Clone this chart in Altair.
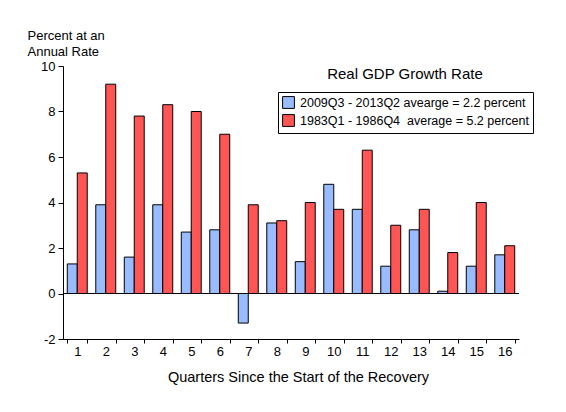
import altair as alt
import pandas as pd

quarters = list(range(1, 17))
recent = [1.3, 3.9, 1.6, 3.9, 2.7, 2.8, -1.3, 3.1, 1.4, 4.8, 3.7, 1.2, 2.8, 0.1, 1.2, 1.7]
eighties = [5.3, 9.2, 7.8, 8.3, 8.0, 7.0, 3.9, 3.2, 4.0, 3.7, 6.3, 3.0, 3.7, 1.8, 4.0, 2.1]
series = ["2009Q3 - 2013Q2 avearge = 2.2 percent", "1983Q1 - 1986Q4\u00a0 average = 5.2 percent"]
colors = ["#99BBFF", "#FF5555"]
y_ticks = [-2, 0, 2, 4, 6, 8, 10]
zero_line = [0]

FONT = "Liberation Sans"


def build_frame():
    rows = []
    for q, a, b in zip(quarters, recent, eighties):
        rows.append({"quarter": q, "series": series[0], "value": a})
        rows.append({"quarter": q, "series": series[1], "value": b})
    return pd.DataFrame(rows)


def _plot(df):
    x = alt.X(
        "quarter:O",
        scale=alt.Scale(paddingInner=0.3, paddingOuter=0.15),
        axis=alt.Axis(
            title="Quarters Since the Start of the Recovery",
            labelAngle=0, tickBand="extent", tickSize=4, labelPadding=2,
            labelFontSize=13, titleFontSize=14.5, titleFontWeight="normal",
            titlePadding=12, titleX=235, domainColor="black", tickColor="black",
            labelColor="black", titleColor="black",
        ),
    )
    y = alt.Y(
        "value:Q",
        scale=alt.Scale(domain=[-2, 10], nice=False, zero=False),
        axis=alt.Axis(
            values=y_ticks, grid=False, tickSize=5, labelPadding=3,
            labelExpr="'' + datum.value",
            labelFontSize=13, domainColor="black", tickColor="black",
            labelColor="black", titleColor="black",
            title=["Percent at an", "Annual Rate"], titleAngle=0,
            titleAlign="left", titleBaseline="top", titleX=-36, titleY=-37,
            titleFontSize=13, titleFontWeight="normal", titleLineHeight=16,
        ),
    )
    bars = alt.Chart(df).mark_bar(stroke="black", strokeWidth=1).encode(
        x=x,
        xOffset=alt.XOffset("series:N", scale=alt.Scale(domain=series, paddingInner=0, paddingOuter=0)),
        y=y,
        y2=alt.datum(0),
        color=alt.Color(
            "series:N",
            scale=alt.Scale(domain=series, range=colors),
            legend=alt.Legend(
                title=None, orient="none", legendX=215, legendY=26,
                strokeColor="black", fillColor="white", padding=4,
                symbolType="square", symbolSize=140, symbolStrokeColor="black",
                symbolStrokeWidth=1, symbolOpacity=1, labelFontSize=12.5,
                labelColor="black", labelLimit=400, rowPadding=1, labelOffset=5,
            ),
        ),
    )
    zero = alt.Chart(pd.DataFrame({"y": zero_line})).mark_rule(color="black").encode(
        y="y:Q"
    )
    return (bars + zero).properties(
        width=456,
        height=273,
        autosize=alt.AutoSizeParams(type="none"),
        padding={"left": 55, "top": 58, "right": 39, "bottom": 65},
        title=alt.TitleParams(
            "Real GDP Growth Rate", anchor="middle", dx=114, dy=57,
            fontSize=15, fontWeight="normal", font=FONT, color="black",
        ),
    ).configure(font=FONT).configure_view(stroke=None)


chart = _plot(build_frame())
chart.save("out.html", embed_options={"renderer": "svg", "actions": False})
